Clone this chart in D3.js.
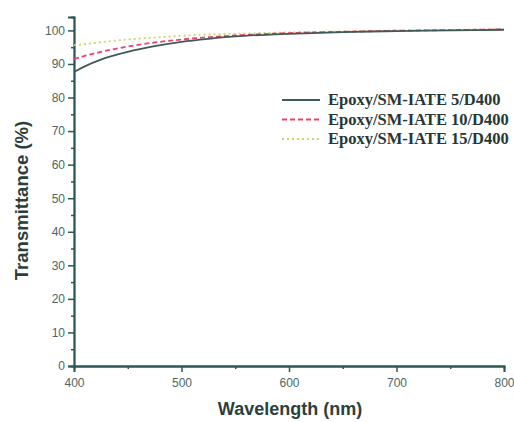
<!DOCTYPE html>
<html>
<head>
<meta charset="utf-8">
<script src="https://cdn.jsdelivr.net/npm/d3@7"></script>
<style>
  body { margin: 0; background: #fff; }
  .tick text { font-family: "Liberation Sans", Arial, sans-serif; font-size: 12px; fill: #4d6664; }
</style>
</head>
<body>
<div id="chart"></div>
<script>
// wavelength (nm) and transmittance (%)
var wavelength = [400, 410, 425, 450, 475, 500, 525, 550, 600, 650, 700, 750, 800];
var iate5  = [87.6, 89.3, 91.3, 93.6, 95.3, 96.6, 97.5, 98.2, 99.0, 99.5, 99.8, 100.0, 100.2];
var iate10 = [91.5, 92.4, 93.6, 95.2, 96.4, 97.3, 98.0, 98.5, 99.2, 99.6, 99.9, 100.1, 100.3];
var iate15 = [95.6, 95.9, 96.5, 97.3, 97.9, 98.4, 98.8, 99.0, 99.4, 99.7, 100.0, 100.2, 100.4];
var seriesNames = ["Epoxy/SM-IATE 5/D400", "Epoxy/SM-IATE 10/D400", "Epoxy/SM-IATE 15/D400"];

var svgWidth = 514;
var svgHeight = 422;
var margin = { top: 17, right: 10, bottom: 56, left: 74 };
var width = 504 - margin.left;
var height = 366 - margin.top;

var axisColor = "#2e5753";

var svg = d3.select("#chart")
  .append("svg")
  .attr("width", svgWidth)
  .attr("height", svgHeight);

var chartGroup = svg.append("g")
  .attr("transform", `translate(${margin.left}, ${margin.top})`);

var xScale = d3.scaleLinear().domain([400, 800]).range([0, width]);
var yScale = d3.scaleLinear().domain([0, 104]).range([height, 0]);

// minor ticks
var xMinor = chartGroup.append("g")
  .attr("transform", `translate(0, ${height})`)
  .call(d3.axisBottom(xScale).tickValues(d3.range(450, 800, 100)).tickSize(3).tickFormat(""));
var yMinor = chartGroup.append("g")
  .call(d3.axisLeft(yScale).tickValues(d3.range(5, 105, 10)).tickSize(3).tickFormat(""));

var xAxis = chartGroup.append("g")
  .attr("transform", `translate(0, ${height})`)
  .call(d3.axisBottom(xScale).tickValues(d3.range(400, 801, 100)).tickSize(6).tickPadding(4));
var yAxis = chartGroup.append("g")
  .call(d3.axisLeft(yScale).tickValues(d3.range(0, 101, 10)).tickSize(6).tickPadding(3));

[xMinor, yMinor, xAxis, yAxis].forEach(function(g) {
  g.selectAll("line").attr("stroke", axisColor).attr("stroke-width", 1.5);
  g.select(".domain").attr("stroke", axisColor).attr("stroke-width", 1.8);
});
xAxis.selectAll("text").attr("dy", "0.9em");

// axis titles
chartGroup.append("text")
  .attr("x", width / 2 + 1)
  .attr("y", height + 49)
  .attr("text-anchor", "middle")
  .attr("font-family", "Liberation Sans, Arial, sans-serif")
  .attr("font-weight", "bold")
  .attr("font-size", "18px")
  .attr("fill", "#2b3f3d")
  .text("Wavelength (nm)");

chartGroup.append("text")
  .attr("transform", `translate(-46, ${height / 2 + 9}) rotate(-90)`)
  .attr("text-anchor", "middle")
  .attr("font-family", "Liberation Sans, Arial, sans-serif")
  .attr("font-weight", "bold")
  .attr("font-size", "18.5px")
  .attr("fill", "#2b3f3d")
  .text("Transmittance (%)");

var styles = [
  { color: "#3f5b59", dash: null, width: 1.8 },
  { color: "#e8466f", dash: "5,3", width: 1.8 },
  { color: "#cfd46a", dash: "2,3", width: 1.8 }
];
var allSeries = [iate15, iate10, iate5];
var allStyles = [styles[2], styles[1], styles[0]];

var line = d3.line()
  .x((d, i) => xScale(wavelength[i]))
  .y(d => yScale(d))
  .curve(d3.curveMonotoneX);

allSeries.forEach(function(s, k) {
  chartGroup.append("path")
    .datum(s)
    .attr("fill", "none")
    .attr("stroke", allStyles[k].color)
    .attr("stroke-width", allStyles[k].width)
    .attr("stroke-dasharray", allStyles[k].dash)
    .attr("d", line);
});

// legend
var legend = svg.append("g").attr("transform", "translate(282, 100)");
seriesNames.forEach(function(name, i) {
  var row = legend.append("g").attr("transform", `translate(0, ${i * 19.5})`);
  row.append("line")
    .attr("x1", 0).attr("x2", 38)
    .attr("stroke", styles[i].color)
    .attr("stroke-width", styles[i].width)
    .attr("stroke-dasharray", styles[i].dash);
  row.append("text")
    .attr("x", 46)
    .attr("y", 5)
    .attr("font-family", "Liberation Serif, Times New Roman, serif")
    .attr("font-weight", "bold")
    .attr("font-size", "16.5px")
    .attr("fill", "#263836")
    .text(name);
});
</script>
</body>
</html>
